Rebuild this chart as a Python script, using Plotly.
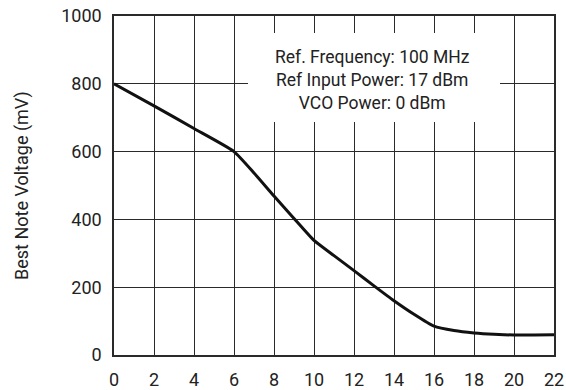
import plotly.graph_objects as go

# Data
x_vals = [0, 2, 4, 6, 7, 8, 9, 10, 11, 12, 13, 14, 15, 16, 17, 18, 19, 20, 21, 22]
y_vals = [800, 735, 668, 600, 537, 469, 403, 338, 293, 249, 204, 160, 120, 85, 72, 65, 61, 59, 59, 60]

x_ticks = list(range(0, 23, 2))
y_ticks = [0, 200, 400, 600, 800, 1000]

y_title = "Best Note Voltage (mV)"
note_lines = ["Ref. Frequency: 100 MHz", "Ref Input Power: 17 dBm", "VCO Power: 0 dBm"]

FONT = "Roboto, Liberation Sans, sans-serif"
TXT = "#222222"
GRID = "#2a2a2a"

fig = go.Figure()
fig.add_trace(go.Scatter(
    x=x_vals, y=y_vals, mode="lines",
    line=dict(color="#111111", width=3, shape="spline", smoothing=0.5),
    showlegend=False, hoverinfo="skip",
))

fig.update_layout(
    width=566, height=390,
    margin=dict(l=114, r=12, t=16, b=35, autoexpand=False),
    paper_bgcolor="white", plot_bgcolor="white",
    font=dict(family=FONT, size=18, color=TXT),
)
fig.update_xaxes(
    range=[0, 22], tickvals=x_ticks, ticktext=[str(v) for v in x_ticks],
    showgrid=True, gridcolor=GRID, gridwidth=1.3,
    showline=True, linecolor=GRID, linewidth=1.5, mirror=True,
    zeroline=False, ticks="", ticklabelstandoff=8, automargin=False,
    tickfont=dict(family=FONT, size=18, color=TXT),
)
fig.update_yaxes(
    range=[0, 1000], tickvals=y_ticks, ticktext=[str(v) for v in y_ticks],
    showgrid=True, gridcolor=GRID, gridwidth=1.3,
    showline=True, linecolor=GRID, linewidth=1.5, mirror=True,
    zeroline=False, ticks="", ticklabelstandoff=7, automargin=False,
    tickfont=dict(family=FONT, size=18, color=TXT),
)

# white box behind the note text (above grid, below traces)
fig.add_shape(type="rect", xref="x", yref="y", x0=6.7, x1=19.3, y0=687, y1=950,
              fillcolor="white", line=dict(width=0), layer="between")

fig.add_annotation(x=12.9, y=810, xref="x", yref="y", text="<br>".join(note_lines),
                   showarrow=False, xanchor="center", yanchor="middle", align="center",
                   font=dict(family=FONT, size=17.5, color=TXT))

fig.add_annotation(x=(21.5 - 114) / 440, y=0.5, xref="paper", yref="paper",
                   text=y_title, textangle=-90, showarrow=False,
                   xanchor="center", yanchor="middle",
                   font=dict(family=FONT, size=18, color=TXT))

fig.write_html("out.html", config={"displayModeBar": False},
               post_script="document.body.style.margin='0';document.body.style.overflow='hidden';")
